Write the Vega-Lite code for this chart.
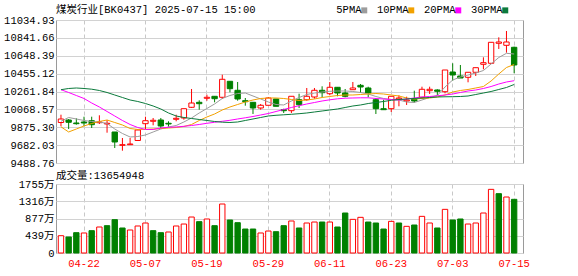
{
  "$schema": "https://vega.github.io/schema/vega-lite/v6.json",
  "background": "white",
  "padding": {"left": 3, "top": 4, "right": 5, "bottom": 2},
  "spacing": 1,
  "config": {
    "view": {"stroke": "#9a9a9a", "strokeWidth": 1},
    "axis": {"domain": false, "ticks": false, "labelFont": "Liberation Mono, Noto Sans CJK SC", "labelFontSize": 10.5, "labelColor": "#000000", "gridColor": "#d2d2d2", "gridWidth": 1, "labelOverlap": false},
    "title": {"font": "Liberation Mono, Noto Sans CJK SC", "fontSize": 10.5, "fontWeight": "normal", "color": "#000000", "anchor": "start", "frame": "group"},
    "legend": {"labelFont": "Liberation Mono, Noto Sans CJK SC", "labelFontSize": 10.5, "labelColor": "#000000"}
  },
  "data": {"values": [
    {"d":"04-17","o":9926.7,"h":10011,"l":9885.6,"c":9964.5,"v":440,"vup":1,"5PMA":9939.7,"10PMA":9880.2,"20PMA":10281.3,"30PMA":10281.3},
    {"d":"04-18","o":9953.7,"h":9964.5,"l":9856.4,"c":9928.9,"v":407,"vup":0,"5PMA":9980.8,"10PMA":9824.0,"20PMA":10251.1,"30PMA":10294.3},
    {"d":"04-21","o":9921.3,"h":9972.1,"l":9902.9,"c":9913.7,"v":517,"vup":0,"5PMA":9964.6,"10PMA":9856.4,"20PMA":10218.6,"30PMA":10299.7},
    {"d":"04-22","o":9932.1,"h":9989.4,"l":9888.9,"c":9921.3,"v":509,"vup":1,"5PMA":9948.3,"10PMA":9888.9,"20PMA":10186.2,"30PMA":10294.3},
    {"d":"04-23","o":9946.2,"h":9989.4,"l":9867.2,"c":9902.9,"v":568,"vup":0,"5PMA":9937.5,"10PMA":9915.9,"20PMA":10137.5,"30PMA":10286.7},
    {"d":"04-24","o":9924.5,"h":10004.6,"l":9910.5,"c":9932.1,"v":661,"vup":1,"5PMA":9932.1,"10PMA":9937.5,"20PMA":10094.3,"30PMA":10272.7},
    {"d":"04-25","o":9910.5,"h":9953.7,"l":9816.4,"c":9918.1,"v":695,"vup":0,"5PMA":9915.9,"10PMA":9953.7,"20PMA":10045.7,"30PMA":10251.1},
    {"d":"04-28","o":9824.0,"h":9824.0,"l":9651.0,"c":9715.9,"v":848,"vup":0,"5PMA":9856.4,"10PMA":9926.7,"20PMA":9997.0,"30PMA":10224.0},
    {"d":"04-29","o":9680.2,"h":9759.1,"l":9621.8,"c":9686.7,"v":636,"vup":0,"5PMA":9807.8,"10PMA":9899.7,"20PMA":9948.3,"30PMA":10197.0},
    {"d":"04-30","o":9686.7,"h":9759.1,"l":9686.7,"c":9694.2,"v":585,"vup":1,"5PMA":9770.0,"10PMA":9861.8,"20PMA":9905.1,"30PMA":10170.0},
    {"d":"05-06","o":9732.1,"h":9853.2,"l":9732.1,"c":9845.6,"v":687,"vup":1,"5PMA":9775.4,"10PMA":9851.0,"20PMA":9872.7,"30PMA":10153.8},
    {"d":"05-07","o":9913.7,"h":9989.4,"l":9856.4,"c":9946.2,"v":763,"vup":1,"5PMA":9791.6,"10PMA":9853.2,"20PMA":9851.0,"30PMA":10132.1},
    {"d":"05-08","o":9939.7,"h":9975.4,"l":9896.4,"c":9950.5,"v":568,"vup":0,"5PMA":9824.0,"10PMA":9856.4,"20PMA":9851.0,"30PMA":10105.1},
    {"d":"05-09","o":9953.7,"h":9975.4,"l":9867.2,"c":9888.9,"v":517,"vup":0,"5PMA":9856.4,"10PMA":9861.8,"20PMA":9867.2,"30PMA":10072.7},
    {"d":"05-12","o":9918.1,"h":9939.7,"l":9881.3,"c":9910.5,"v":534,"vup":1,"5PMA":9878.1,"10PMA":9867.2,"20PMA":9874.8,"30PMA":10029.4},
    {"d":"05-13","o":9961.3,"h":10011,"l":9939.7,"c":9972.1,"v":687,"vup":1,"5PMA":9894.3,"10PMA":9872.7,"20PMA":9878.1,"30PMA":9997.0},
    {"d":"05-14","o":9975.4,"h":10075.9,"l":9957.0,"c":10075.9,"v":737,"vup":1,"5PMA":9932.1,"10PMA":9883.5,"20PMA":9885.6,"30PMA":9980.8},
    {"d":"05-15","o":10091.0,"h":10288.9,"l":10083.5,"c":10137.5,"v":915,"vup":1,"5PMA":9975.4,"10PMA":9905.1,"20PMA":9894.3,"30PMA":9970.0},
    {"d":"05-16","o":10145.1,"h":10166.7,"l":10065.1,"c":10130.0,"v":797,"vup":0,"5PMA":10029.4,"10PMA":9948.3,"20PMA":9905.1,"30PMA":9959.2},
    {"d":"05-19","o":10188.4,"h":10227.3,"l":10162.4,"c":10199.2,"v":865,"vup":1,"5PMA":10078.1,"10PMA":9986.2,"20PMA":9918.1,"30PMA":9948.3},
    {"d":"05-20","o":10210.0,"h":10210.0,"l":10145.1,"c":10184.0,"v":695,"vup":0,"5PMA":10126.7,"10PMA":10018.6,"20PMA":9928.9,"30PMA":9937.5},
    {"d":"05-21","o":10199.2,"h":10443.5,"l":10180.8,"c":10393.8,"v":1246,"vup":1,"5PMA":10186.2,"10PMA":10061.9,"20PMA":9939.7,"30PMA":9929.9},
    {"d":"05-22","o":10372.2,"h":10372.2,"l":10253.2,"c":10292.2,"v":839,"vup":0,"5PMA":10218.6,"10PMA":10094.3,"20PMA":9950.5,"30PMA":9926.7},
    {"d":"05-23","o":10274.9,"h":10364.6,"l":10162.4,"c":10180.8,"v":771,"vup":0,"5PMA":10240.2,"10PMA":10121.3,"20PMA":9964.6,"30PMA":9932.1},
    {"d":"05-26","o":10162.4,"h":10191.6,"l":10108.3,"c":10151.6,"v":610,"vup":0,"5PMA":10245.6,"10PMA":10148.3,"20PMA":9977.6,"30PMA":9948.3},
    {"d":"05-27","o":10145.1,"h":10145.1,"l":10018.6,"c":10083.5,"v":610,"vup":0,"5PMA":10213.2,"10PMA":10170.0,"20PMA":9991.6,"30PMA":9964.6},
    {"d":"05-28","o":10083.5,"h":10126.7,"l":10065.1,"c":10112.7,"v":509,"vup":1,"5PMA":10180.8,"10PMA":10186.2,"20PMA":10007.8,"30PMA":9980.8},
    {"d":"05-29","o":10112.7,"h":10202.4,"l":10112.7,"c":10191.6,"v":559,"vup":1,"5PMA":10148.3,"10PMA":10191.6,"20PMA":10024.0,"30PMA":9997.0},
    {"d":"05-30","o":10180.8,"h":10180.8,"l":10101.9,"c":10101.9,"v":542,"vup":0,"5PMA":10121.3,"10PMA":10191.6,"20PMA":10045.7,"30PMA":10004.6},
    {"d":"06-03","o":10065.1,"h":10075.9,"l":10029.4,"c":10054.3,"v":695,"vup":0,"5PMA":10115.9,"10PMA":10186.2,"20PMA":10067.3,"30PMA":10010.0},
    {"d":"06-04","o":10054.3,"h":10210.0,"l":10029.4,"c":10210.0,"v":814,"vup":1,"5PMA":10159.2,"10PMA":10175.4,"20PMA":10088.9,"30PMA":10015.4},
    {"d":"06-05","o":10173.2,"h":10238.1,"l":10083.5,"c":10119.2,"v":636,"vup":0,"5PMA":10197.0,"10PMA":10164.6,"20PMA":10108.3,"30PMA":10021.8},
    {"d":"06-06","o":10173.2,"h":10299.7,"l":10162.4,"c":10210.0,"v":763,"vup":1,"5PMA":10229.4,"10PMA":10170.0,"20PMA":10126.7,"30PMA":10029.4},
    {"d":"06-09","o":10202.4,"h":10299.7,"l":10184.0,"c":10274.9,"v":788,"vup":1,"5PMA":10245.6,"10PMA":10180.8,"20PMA":10142.9,"30PMA":10040.2},
    {"d":"06-10","o":10274.9,"h":10318.1,"l":10199.2,"c":10248.9,"v":788,"vup":0,"5PMA":10256.5,"10PMA":10197.0,"20PMA":10159.2,"30PMA":10051.1},
    {"d":"06-11","o":10238.1,"h":10364.6,"l":10220.8,"c":10307.3,"v":788,"vup":1,"5PMA":10264.0,"10PMA":10207.8,"20PMA":10172.1,"30PMA":10061.9},
    {"d":"06-12","o":10307.3,"h":10307.3,"l":10210.0,"c":10245.7,"v":661,"vup":0,"5PMA":10267.3,"10PMA":10218.6,"20PMA":10182.9,"30PMA":10072.7},
    {"d":"06-13","o":10245.7,"h":10288.9,"l":10199.2,"c":10210.0,"v":1017,"vup":0,"5PMA":10267.3,"10PMA":10224.0,"20PMA":10189.4,"30PMA":10088.9},
    {"d":"06-16","o":10281.3,"h":10364.6,"l":10281.3,"c":10299.7,"v":856,"vup":1,"5PMA":10261.9,"10PMA":10224.0,"20PMA":10191.6,"30PMA":10105.1},
    {"d":"06-17","o":10328.9,"h":10343.0,"l":10245.7,"c":10310.5,"v":907,"vup":1,"5PMA":10251.1,"10PMA":10229.4,"20PMA":10193.7,"30PMA":10115.9},
    {"d":"06-18","o":10299.7,"h":10313.8,"l":10199.2,"c":10245.7,"v":788,"vup":0,"5PMA":10234.8,"10PMA":10234.8,"20PMA":10193.7,"30PMA":10132.1},
    {"d":"06-19","o":10173.2,"h":10191.6,"l":10018.6,"c":10075.9,"v":763,"vup":0,"5PMA":10207.8,"10PMA":10240.2,"20PMA":10186.2,"30PMA":10142.9},
    {"d":"06-20","o":10075.9,"h":10173.2,"l":10065.1,"c":10065.1,"v":610,"vup":0,"5PMA":10186.2,"10PMA":10234.8,"20PMA":10180.8,"30PMA":10153.8},
    {"d":"06-23","o":10075.9,"h":10210.0,"l":10040.2,"c":10210.0,"v":805,"vup":1,"5PMA":10175.4,"10PMA":10224.0,"20PMA":10175.4,"30PMA":10166.7},
    {"d":"06-24","o":10180.8,"h":10220.8,"l":10101.9,"c":10191.6,"v":763,"vup":0,"5PMA":10170.0,"10PMA":10213.2,"20PMA":10170.0,"30PMA":10175.4},
    {"d":"06-25","o":10159.2,"h":10205.7,"l":10115.9,"c":10170.0,"v":678,"vup":1,"5PMA":10148.3,"10PMA":10191.6,"20PMA":10180.8,"30PMA":10180.8},
    {"d":"06-26","o":10177.5,"h":10270.5,"l":10140.8,"c":10159.2,"v":712,"vup":0,"5PMA":10142.9,"10PMA":10180.8,"20PMA":10191.6,"30PMA":10186.2},
    {"d":"06-27","o":10199.2,"h":10313.8,"l":10199.2,"c":10285.7,"v":932,"vup":1,"5PMA":10170.0,"10PMA":10186.2,"20PMA":10202.4,"30PMA":10191.6},
    {"d":"06-30","o":10270.5,"h":10313.8,"l":10234.8,"c":10285.7,"v":763,"vup":1,"5PMA":10197.0,"10PMA":10191.6,"20PMA":10207.8,"30PMA":10197.0},
    {"d":"07-01","o":10278.1,"h":10285.7,"l":10224.0,"c":10264.0,"v":636,"vup":0,"5PMA":10218.6,"10PMA":10202.4,"20PMA":10215.4,"30PMA":10202.4},
    {"d":"07-02","o":10259.7,"h":10494.3,"l":10242.4,"c":10494.3,"v":1110,"vup":1,"5PMA":10310.5,"10PMA":10224.0,"20PMA":10224.0,"30PMA":10204.6},
    {"d":"07-03","o":10472.7,"h":10566.8,"l":10378.6,"c":10440.3,"v":839,"vup":0,"5PMA":10386.2,"10PMA":10256.5,"20PMA":10234.8,"30PMA":10205.6},
    {"d":"07-04","o":10429.5,"h":10548.4,"l":10407.8,"c":10407.8,"v":865,"vup":0,"5PMA":10418.6,"10PMA":10272.7,"20PMA":10251.1,"30PMA":10207.8},
    {"d":"07-07","o":10415.4,"h":10469.5,"l":10361.3,"c":10469.5,"v":737,"vup":1,"5PMA":10440.3,"10PMA":10283.5,"20PMA":10267.3,"30PMA":10213.2},
    {"d":"07-08","o":10469.5,"h":10519.2,"l":10429.5,"c":10519.2,"v":763,"vup":1,"5PMA":10461.9,"10PMA":10299.7,"20PMA":10278.1,"30PMA":10229.4},
    {"d":"07-09","o":10556.0,"h":10631.6,"l":10501.9,"c":10573.3,"v":1017,"vup":1,"5PMA":10488.9,"10PMA":10315.9,"20PMA":10294.3,"30PMA":10245.6},
    {"d":"07-10","o":10566.8,"h":10797.1,"l":10566.8,"c":10793.8,"v":1619,"vup":1,"5PMA":10559.2,"10PMA":10375.4,"20PMA":10315.9,"30PMA":10261.9},
    {"d":"07-11","o":10783.0,"h":10847.9,"l":10721.4,"c":10797.1,"v":1509,"vup":0,"5PMA":10629.5,"10PMA":10451.1,"20PMA":10342.9,"30PMA":10283.5},
    {"d":"07-14","o":10761.4,"h":10916.0,"l":10681.4,"c":10797.1,"v":1424,"vup":1,"5PMA":10674.9,"10PMA":10521.3,"20PMA":10364.6,"30PMA":10305.1},
    {"d":"07-15","o":10739.8,"h":10746.3,"l":10458.7,"c":10548.4,"v":1365.5,"vup":0,"5PMA":10667.3,"10PMA":10553.8,"20PMA":10378.6,"30PMA":10337.5}
  ]},
  "vconcat": [
    {
      "width": 467,
      "height": 143,
      "title": {"text": "煤炭行业[BK0437] 2025-07-15 15:00", "offset": -0.5},
      "encoding": {
        "x": {"field": "d", "type": "ordinal", "sort": null, "title": null,
          "scale": {"paddingInner": 0.3, "paddingOuter": 0.55, "align": 0.27},
          "axis": {"values": ["04-22","05-07","05-19","05-29","06-11","06-23","07-03","07-15"], "labels": false, "grid": true, "gridDash": [4, 3], "gridColor": "#c8c8c8", "bandPosition": 0.5}}
      },
      "layer": [
        {
          "mark": {"type": "rule", "strokeWidth": 1},
          "encoding": {
            "y": {"field": "l", "type": "quantitative", "title": null,
              "scale": {"domain": [9488.76, 11034.93], "nice": false, "zero": false},
              "axis": {"values": [9488.76, 9682.03, 9875.30, 10068.57, 10261.84, 10455.12, 10648.39, 10841.66, 11034.93], "tickCount": 50, "format": ".2f", "grid": true, "labelPadding": 2, "labelOverlap": false}},
            "y2": {"field": "h"},
            "stroke": {"condition": {"test": "datum.c >= datum.o", "value": "#ff0000"}, "value": "#008000"}
          }
        },
        {
          "mark": {"type": "bar", "strokeWidth": 1},
          "encoding": {
            "y": {"field": "o", "type": "quantitative", "title": null},
            "y2": {"field": "c"},
            "fill": {"condition": {"test": "datum.c >= datum.o", "value": "#ffffff"}, "value": "#008000"},
            "stroke": {"condition": {"test": "datum.c >= datum.o", "value": "#ff0000"}, "value": "#008000"}
          }
        },
        {
          "transform": [{"fold": ["5PMA", "10PMA", "20PMA", "30PMA"], "as": ["ma", "val"]}],
          "mark": {"type": "line", "strokeWidth": 1},
          "encoding": {
            "y": {"field": "val", "type": "quantitative", "title": null},
            "color": {"field": "ma", "type": "nominal",
              "scale": {"domain": ["5PMA", "10PMA", "20PMA", "30PMA"], "range": ["#9c9c9c", "#f2a100", "#ff00ff", "#0b7a3c"]},
              "legend": {"orient": "none", "legendX": 303, "legendY": -15, "direction": "horizontal", "title": null,
                "symbolType": "square", "symbolSize": 9, "symbolStrokeWidth": 3,
                "labelAlign": "right", "labelOffset": -8, "columnPadding": 4}}
          }
        }
      ]
    },
    {
      "width": 467,
      "height": 69,
      "title": {"text": "成交量:13654948", "offset": -2},
      "mark": {"type": "bar", "strokeWidth": 1},
      "encoding": {
        "x": {"field": "d", "type": "ordinal", "sort": null, "title": null,
          "scale": {"paddingInner": 0.3, "paddingOuter": 0.55, "align": 0.27},
          "axis": {"values": ["04-22","05-07","05-19","05-29","06-11","06-23","07-03","07-15"], "labelColor": "#ff0000", "labelAngle": 0, "labelPadding": 5, "grid": true, "gridDash": [4, 3], "gridColor": "#c8c8c8", "bandPosition": 0.5}},
        "y": {"field": "v", "type": "quantitative", "title": null,
          "scale": {"domain": [0, 1755], "nice": false},
          "axis": {"values": [0, 439, 877, 1316, 1755], "tickCount": 50, "labelExpr": "datum.value == 0 ? '0' : datum.value + '万'", "grid": true, "labelPadding": 2, "labelOverlap": false}},
        "fill": {"condition": {"test": "datum.vup == 1", "value": "#ffffff"}, "value": "#008000"},
        "stroke": {"condition": {"test": "datum.vup == 1", "value": "#ff0000"}, "value": "#008000"}
      }
    }
  ]
}
